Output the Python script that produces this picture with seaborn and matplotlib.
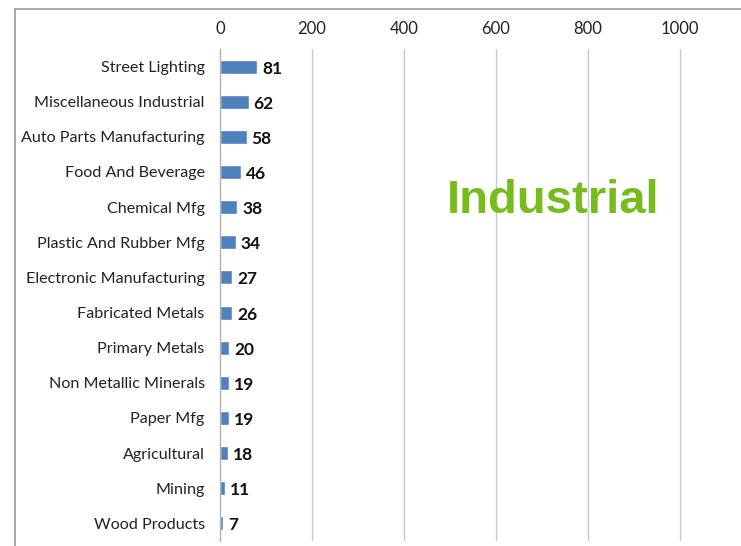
import matplotlib
matplotlib.use("Agg")
import matplotlib.pyplot as plt
import seaborn as sns
import pandas as pd
from matplotlib.lines import Line2D

categories = ["Street Lighting", "Miscellaneous Industrial", "Auto Parts Manufacturing",
              "Food And Beverage", "Chemical Mfg", "Plastic And Rubber Mfg",
              "Electronic Manufacturing", "Fabricated Metals", "Primary Metals",
              "Non Metallic Minerals", "Paper Mfg", "Agricultural", "Mining", "Wood Products"]
values = [81, 62, 58, 46, 38, 34, 27, 26, 20, 19, 19, 18, 11, 7]
x_ticks = [0, 200, 400, 600, 800, 1000]

df = pd.DataFrame({"category": categories, "value": values})

sns.set_style("white")
plt.rcParams['font.family'] = ['Lato', 'DejaVu Sans']

fig = plt.figure(figsize=(7.41, 5.46), dpi=100)
W, H = 741, 546
ax = fig.add_axes([220 / W, 1 - 541 / H, (741 - 220) / W, (541 - 49) / H])

sns.barplot(data=df, y="category", x="value", orient="h", color="#4F81BD",
            width=0.4, saturation=1, ax=ax)

ax.set_xlim(0, 521 / 0.46)
ax.set_ylim(len(categories) - 0.5, -0.5)
ax.set_xticks(x_ticks)
ax.xaxis.tick_top()
ax.tick_params(axis='x', length=0, pad=9, labelsize=12, labelcolor="#222222")
ax.set_xlabel("")
ax.set_ylabel("")

for x in x_ticks[1:]:
    ax.axvline(x, color="#C8C8C8", lw=1, zorder=0)

ax.set_yticks(range(len(categories)))
ax.set_yticklabels(categories)
ax.set_yticks([i - 0.5 for i in range(len(categories) + 1)], minor=True)
ax.tick_params(axis='y', which='major', length=0, pad=11, labelsize=11.6, labelcolor="#222222")
ax.tick_params(axis='y', which='minor', length=4, color="#B0B0B0", width=1)

for s in ["top", "right", "bottom"]:
    ax.spines[s].set_visible(False)
ax.spines["left"].set_color("#B0B0B0")
ax.spines["left"].set_linewidth(1)

for i, v in enumerate(values):
    ax.annotate(str(v), xy=(v, i), xytext=(5, -2), textcoords="offset pixels",
                ha="left", va="center", fontsize=12.5, fontweight="bold", color="#111111")

fig.text(553 / W, 1 - 201 / H, "Industrial", color="#77BC1F", fontsize=34,
         fontweight="bold", family=["Liberation Sans", "DejaVu Sans"],
         ha="center", va="center")

# outer frame lines
fig.add_artist(Line2D([15 / W, 1], [1 - 9 / H, 1 - 9 / H], color="#999999", lw=1.2,
                      transform=fig.transFigure))
fig.add_artist(Line2D([15 / W, 15 / W], [0, 1 - 9 / H], color="#999999", lw=1.2,
                      transform=fig.transFigure))

fig.savefig("out.png", dpi=100)
